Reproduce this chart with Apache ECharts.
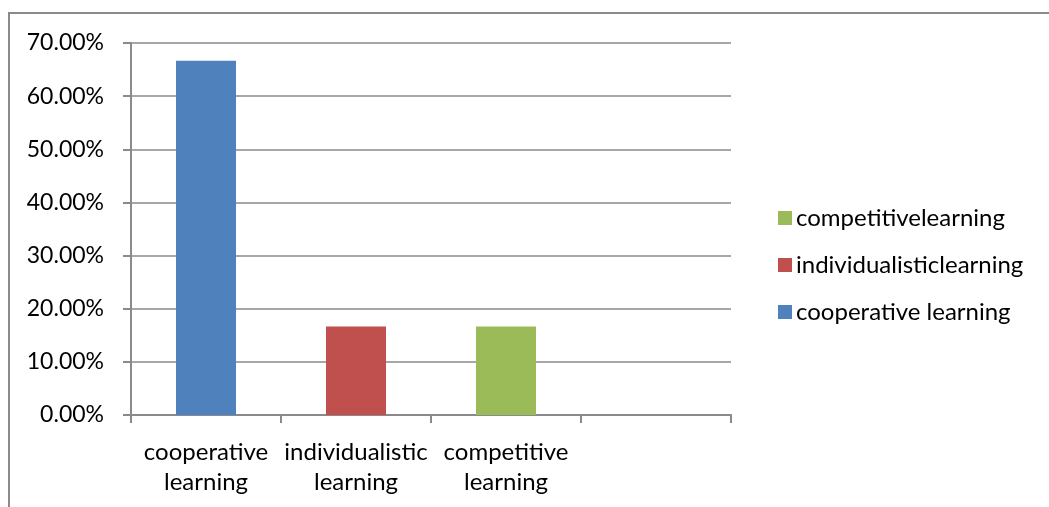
<!DOCTYPE html>
<html>
<head>
<meta charset="utf-8">
<script src="https://cdn.jsdelivr.net/npm/echarts@6/dist/echarts.min.js"></script>
<style>
  html, body { margin: 0; padding: 0; background: #fff; }
  #chart { width: 1049px; height: 507px; }
</style>
</head>
<body>
<div id="chart"></div>
<script>
// categories on the x axis (the 4th slot is empty in the original)
const categories = ['cooperative\nlearning', 'individualistic\nlearning', 'competitive\nlearning', ''];
const seriesNames = ['cooperative learning', 'individualisticlearning', 'competitivelearning'];
const seriesColors = ['#4F81BD', '#C0504D', '#9BBB59'];
// one value per series, placed in its own category
const cooperative = [66.67, '-', '-', '-'];
const individualistic = ['-', 16.67, '-', '-'];
const competitive = ['-', '-', 16.67, '-'];
const legendOrder = ['competitivelearning', 'individualisticlearning', 'cooperative learning'];

const font = 'Lato, "Open Sans", sans-serif';
const gray = '#8a8a8a';

const chart = echarts.init(document.getElementById('chart'));
const values = [cooperative, individualistic, competitive];

chart.setOption({
    animation: false,
    textStyle: { fontFamily: font },
    graphic: [{
        type: 'rect',
        shape: { x: 9, y: 13, width: 1200, height: 700 },
        style: { fill: 'none', stroke: gray, lineWidth: 2 },
        silent: true
    }],
    grid: { left: 131, right: 318, top: 43, bottom: 92 },
    legend: {
        data: legendOrder,
        orient: 'vertical',
        left: 773,
        top: 201,
        itemWidth: 14,
        itemHeight: 14,
        itemGap: 23,
        icon: 'rect',
        textStyle: { fontSize: 24, lineHeight: 24, color: '#000', fontFamily: font, padding: [0, 0, 0, -1] }
    },
    xAxis: {
        type: 'category',
        data: categories,
        axisLine: { lineStyle: { color: gray, width: 2 } },
        axisTick: { show: true, length: 8, lineStyle: { color: gray, width: 2 } },
        axisLabel: {
            interval: 0,
            hideOverlap: false,
            color: '#000',
            fontSize: 24,
            lineHeight: 30,
            margin: 22,
            fontFamily: font
        }
    },
    yAxis: {
        type: 'value',
        min: 0,
        max: 70,
        interval: 10,
        axisLine: { show: true, lineStyle: { color: gray, width: 2 } },
        axisTick: { show: true, length: 8, lineStyle: { color: gray, width: 2 } },
        splitLine: { lineStyle: { color: gray, width: 1.5 } },
        axisLabel: {
            color: '#000',
            fontSize: 23,
            margin: 27,
            fontFamily: font,
            formatter: v => v.toFixed(2) + '%'
        }
    },
    series: seriesNames.map((name, i) => ({
        name: name,
        type: 'bar',
        stack: 'all',
        barWidth: 60,
        data: values[i],
        itemStyle: { color: seriesColors[i] }
    }))
});
</script>
</body>
</html>
